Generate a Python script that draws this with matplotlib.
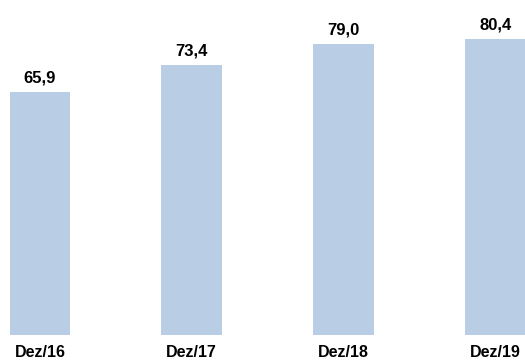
import matplotlib
matplotlib.use('Agg')
import matplotlib.pyplot as plt

# data
periods = ['Dez/16', 'Dez/17', 'Dez/18', 'Dez/19']
values = [65.9, 73.4, 79.0, 80.4]
value_labels = ['65,9', '73,4', '79,0', '80,4']

plt.rcParams['font.family'] = ['Liberation Sans', 'DejaVu Sans']

fig = plt.figure(figsize=(5.25, 3.6), dpi=100)
ax = fig.add_axes([0, 25.3 / 360, 1, 1 - 25.3 / 360])

x = range(len(periods))
bars = ax.bar(x, values, width=0.40, color='#b9cde5')

for b, lab in zip(bars, value_labels):
    ax.annotate(lab, (b.get_x() + b.get_width() / 2, b.get_height()),
                xytext=(0, 4.5), textcoords='offset points',
                ha='center', va='bottom', fontsize=12, fontweight='bold')

ax.set_xlim(-0.2635, 3.195)
ax.set_ylim(0, 90.95)
ax.set_xticks(list(x))
ax.set_xticklabels(periods, fontsize=11.5, fontweight='bold')
ax.tick_params(axis='x', length=0, pad=7.5)
ax.set_yticks([])
for s in ax.spines.values():
    s.set_visible(False)

fig.savefig('out.png', dpi=100)
